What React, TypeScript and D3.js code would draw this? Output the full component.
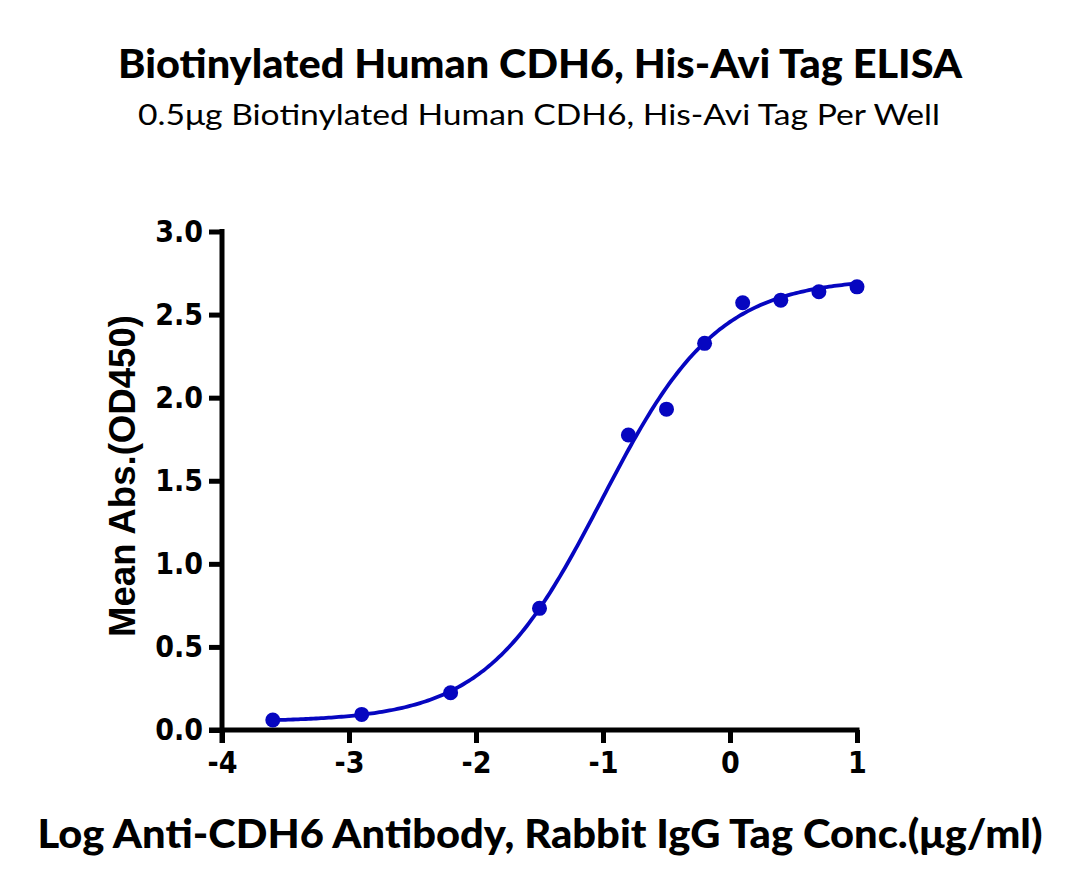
import React, { useRef, useEffect } from "react";
import * as d3 from "d3";

// measured points (log conc, OD450)
const logConc = [-3.6, -2.9, -2.2, -1.5, -0.8, -0.5, -0.2, 0.1, 0.4, 0.7, 1.0];
const meanAbs = [0.06, 0.094, 0.224, 0.732, 1.775, 1.931, 2.327, 2.571, 2.587, 2.637, 2.667];

// four-parameter logistic fit
const fitBottom = 0.05;
const fitTop = 2.72;
const fitLogEC50 = -1.01;
const fitHill = 0.95;

const xTicks = [-4, -3, -2, -1, 0, 1];
const yTicks = [0, 0.5, 1.0, 1.5, 2.0, 2.5, 3.0];

const title = "Biotinylated Human CDH6, His-Avi Tag ELISA";
const subtitle = "0.5μg Biotinylated Human CDH6, His-Avi Tag Per Well";
const xLabel = "Log Anti-CDH6 Antibody, Rabbit IgG Tag Conc.(μg/ml)";
const yLabel = "Mean Abs.(OD450)";

const BLUE = "#0606c0";

const App = () => {
  const svgRef = useRef(null);

  useEffect(() => {
    const width = 1080;
    const height = 895;
    const margin = { top: 231.5, right: 223, bottom: 165, left: 222 };

    const svg = d3.select(svgRef.current);
    svg.selectAll("*").remove();

    const x = d3.scaleLinear().domain([-4, 1]).range([margin.left, width - margin.right]);
    const y = d3.scaleLinear().domain([0, 3]).range([height - margin.bottom, margin.top]);

    const sans = "Lato, 'Open Sans', sans-serif";
    const tickFont = "'DejaVu Sans Condensed', 'DejaVu Sans', sans-serif";

    // titles
    svg.append("text")
      .attr("x", 540).attr("y", 78)
      .attr("text-anchor", "middle")
      .attr("font-family", sans)
      .attr("font-weight", "900")
      .attr("font-size", 39)
      .attr("textLength", 844)
      .attr("lengthAdjust", "spacingAndGlyphs")
      .text(title);

    svg.append("text")
      .attr("x", 539).attr("y", 125)
      .attr("text-anchor", "middle")
      .attr("font-family", sans)
      .attr("font-size", 29)
      .attr("textLength", 802)
      .attr("lengthAdjust", "spacingAndGlyphs")
      .text(subtitle);

    // axes
    const xAxis = svg.append("g")
      .attr("transform", `translate(0,${y(0)})`)
      .call(d3.axisBottom(x).tickValues(xTicks).tickSize(13).tickPadding(9).tickFormat(d3.format("d")));
    const yAxis = svg.append("g")
      .attr("transform", `translate(${x(-4)},0)`)
      .call(d3.axisLeft(y).tickValues(yTicks).tickSize(13).tickPadding(6).tickFormat(d3.format(".1f")));

    [xAxis, yAxis].forEach((g) => {
      g.select(".domain").remove();
      g.selectAll(".tick line").attr("stroke", "#000").attr("stroke-width", 5);
      g.selectAll(".tick text")
        .attr("fill", "#000")
        .attr("font-family", tickFont)
        .attr("font-weight", "bold")
        .attr("font-size", 30);
    });
    xAxis.selectAll(".tick text").text((d) => (d < 0 ? "-" + Math.abs(d) : String(d)));

    svg.append("line")
      .attr("x1", x(-4) - 13).attr("x2", x(1) + 2.5)
      .attr("y1", y(0)).attr("y2", y(0))
      .attr("stroke", "#000").attr("stroke-width", 5);
    svg.append("line")
      .attr("x1", x(-4)).attr("x2", x(-4))
      .attr("y1", y(3) - 2.5).attr("y2", y(0) + 13)
      .attr("stroke", "#000").attr("stroke-width", 5);

    // axis titles
    svg.append("text")
      .attr("transform", `translate(135,476) rotate(-90)`)
      .attr("text-anchor", "middle")
      .attr("font-family", "'Liberation Sans', Arial, sans-serif")
      .attr("font-weight", "bold")
      .attr("font-size", 37)
      .attr("textLength", 322)
      .attr("lengthAdjust", "spacingAndGlyphs")
      .text(yLabel);

    svg.append("text")
      .attr("x", 540).attr("y", 848)
      .attr("text-anchor", "middle")
      .attr("font-family", sans)
      .attr("font-weight", "900")
      .attr("font-size", 39)
      .attr("textLength", 1005)
      .attr("lengthAdjust", "spacingAndGlyphs")
      .text(xLabel);

    // fitted curve
    const fit = (lx) => fitBottom + (fitTop - fitBottom) / (1 + Math.pow(10, (fitLogEC50 - lx) * fitHill));
    const curveXs = d3.range(logConc[0], logConc[logConc.length - 1] + 0.001, 0.02);
    svg.append("path")
      .datum(curveXs)
      .attr("fill", "none")
      .attr("stroke", BLUE)
      .attr("stroke-width", 3.8)
      .attr("d", d3.line().x((d) => x(d)).y((d) => y(fit(d))));

    // points
    svg.selectAll(".dot")
      .data(logConc)
      .enter()
      .append("circle")
      .attr("cx", (d) => x(d))
      .attr("cy", (d, i) => y(meanAbs[i]))
      .attr("r", 7.5)
      .attr("fill", BLUE);
  }, []);

  return (
    <div style={{ position: "absolute", left: 0, top: 0, width: 1080, height: 895, background: "#fff" }}>
      <svg ref={svgRef} width={1080} height={895}></svg>
    </div>
  );
};

export default App;
